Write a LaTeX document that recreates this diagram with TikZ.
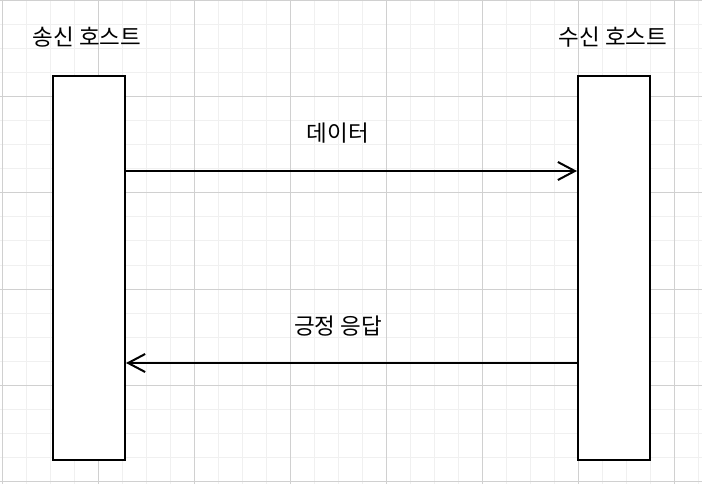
\documentclass[tikz,border=0pt]{standalone}
\usepackage{fontspec}
\newfontfamily\kr{Noto Sans CJK KR}
\usetikzlibrary{arrows.meta}
\definecolor{minorgrid}{HTML}{F0F0F0}
\definecolor{majorgrid}{HTML}{D0D0D0}
\tikzset{
  hostbox/.style={draw=black, fill=white, line width=2bp, minimum width=72bp, minimum height=384bp, inner sep=0pt, anchor=north west},
  lbl/.style={font=\kr\fontsize{22.5bp}{26bp}\selectfont, inner sep=0pt, text=black},
  msg/.style={line width=2bp, -{Straight Barb[length=17bp,width=18bp,line width=2bp]}},
}
\begin{document}
\begin{tikzpicture}[x=1bp,y=-1bp]
\useasboundingbox (0,0) rectangle (702,484);
\fill[white] (0,0) rectangle (702,484);
% minor grid
\foreach \i in {0,...,29} { \draw[minorgrid, line width=1bp] ({2+24*\i},0) -- ({2+24*\i},484); }
\foreach \j in {0,...,20} { \draw[minorgrid, line width=1bp] (0,{1+24*\j}) -- (702,{1+24*\j}); }
% major grid
\foreach \i in {0,...,7} { \draw[majorgrid, line width=1bp] ({2+96*\i},0) -- ({2+96*\i},484); }
\foreach \j in {0,...,5} { \draw[majorgrid, line width=1bp] (0,{1+96*\j}) -- (702,{1+96*\j}); }
% hosts
\node[hostbox] (send) at (52,75) {};
\node[hostbox] (recv) at (577,75) {};
\node[lbl] (sendlbl) at (87,37.5) {송신 호스트};
\node[lbl] (recvlbl) at (613,37) {수신 호스트};
% messages
\coordinate (d1) at (send.east |- 0,171);
\coordinate (d2) at (recv.west |- 0,171);
\coordinate (a1) at (recv.west |- 0,363);
\coordinate (a2) at (send.east |- 0,363);
\draw[msg] (d1) -- (d2);
\draw[msg] (a1) -- (a2);
\node[lbl] (datalbl) at (338,133.5) {데이터};
\node[lbl] (acklbl) at (338,326) {긍정 응답};
\end{tikzpicture}
\end{document}
